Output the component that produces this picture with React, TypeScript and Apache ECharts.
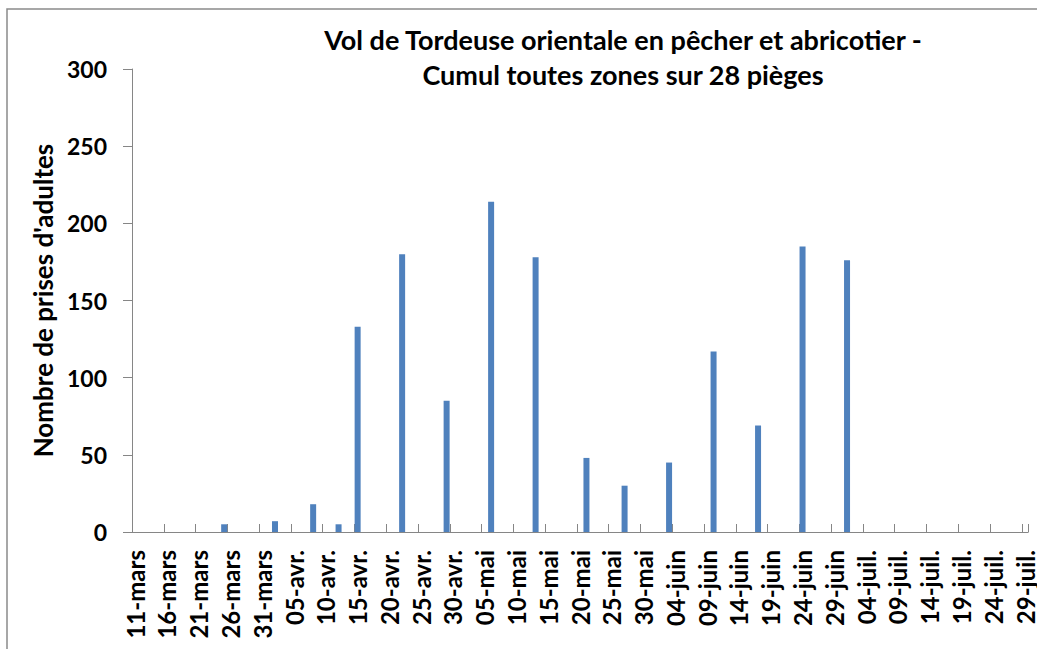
import React, { useEffect, useRef } from "react";
import * as echarts from "echarts";

const TITLE_LINES = [
  "Vol de Tordeuse orientale en pêcher et abricotier -",
  "Cumul toutes zones sur 28 pièges",
];
const Y_NAME = "Nombre de prises d'adultes";
const MONTHS = ["janv.", "févr.", "mars", "avr.", "mai", "juin", "juil.", "août", "sept.", "oct.", "nov.", "déc."];
const FIRST_DAY = "2013-03-11";
const LAST_DAY = "2013-07-29";
const Y_MIN = 0;
const Y_MAX = 300;
const Y_STEP = 50;

const trapDates = [
  "25-mars", "02-avr.", "08-avr.", "12-avr.", "15-avr.", "22-avr.", "29-avr.", "06-mai",
  "13-mai", "21-mai", "27-mai", "03-juin", "10-juin", "17-juin", "24-juin", "01-juil.",
];
const captures = [5, 7, 18, 5, 133, 180, 85, 214, 178, 48, 30, 45, 117, 69, 185, 176];

function buildDays(first: string, last: string): string[] {
  const out: string[] = [];
  const t0 = Date.parse(first + "T00:00:00Z");
  const t1 = Date.parse(last + "T00:00:00Z");
  for (let t = t0; t <= t1; t += 86400000) {
    const d = new Date(t);
    out.push(String(d.getUTCDate()).padStart(2, "0") + "-" + MONTHS[d.getUTCMonth()]);
  }
  return out;
}

const FONT = "Lato, 'Noto Sans', sans-serif";
const AXIS_GRAY = "#868686";

export default function App() {
  const ref = useRef<HTMLDivElement>(null);
  useEffect(() => {
    if (!ref.current) return;
    const chart = echarts.init(ref.current, undefined, { renderer: "svg" });
    const days = buildDays(FIRST_DAY, LAST_DAY);
    chart.setOption({
      animation: false,
      backgroundColor: "#ffffff",
      textStyle: { fontFamily: FONT },
      graphic: [
        {
          type: "rect",
          z: -10,
          shape: { x: 7, y: 9, width: 1060, height: 680 },
          style: { fill: "none", stroke: "#8a8a8a", lineWidth: 1.5 },
        },
        {
          type: "text",
          x: 623,
          y: 22,
          style: {
            text: TITLE_LINES.join("\n"),
            fontFamily: FONT,
            fontSize: 27,
            fontWeight: "bold",
            lineHeight: 35,
            fill: "#000",
            textAlign: "center",
            textVerticalAlign: "top",
          },
        },
      ],
      grid: { left: 132, right: 7, top: 69, bottom: 117, containLabel: false },
      xAxis: {
        type: "category",
        data: days,
        boundaryGap: true,
        axisLine: { show: true, lineStyle: { color: AXIS_GRAY, width: 1 } },
        axisTick: { show: true, inside: true, length: 8, interval: 4, alignWithLabel: false, lineStyle: { color: AXIS_GRAY } },
        axisLabel: {
          interval: 4,
          rotate: 90,
          margin: 18,
          fontSize: 24,
          fontWeight: "bold",
          color: "#000",
          fontFamily: FONT,
          hideOverlap: false,
        },
        splitLine: { show: false },
      },
      yAxis: {
        type: "value",
        min: Y_MIN,
        max: Y_MAX,
        interval: Y_STEP,
        name: Y_NAME,
        nameLocation: "middle",
        nameGap: 74,
        nameTextStyle: { fontSize: 26, fontWeight: "bold", color: "#000", fontFamily: FONT },
        axisLine: { show: true, lineStyle: { color: AXIS_GRAY, width: 1 } },
        axisTick: { show: true, inside: false, length: 9, lineStyle: { color: AXIS_GRAY } },
        axisLabel: { margin: 25, fontSize: 23, fontWeight: "bold", color: "#000", fontFamily: FONT },
        splitLine: { show: false },
      },
      series: [
        {
          type: "bar",
          barWidth: 6,
          itemStyle: { color: "#4f81bd" },
          data: trapDates.map((d, i) => [d, captures[i]]),
        },
      ],
    });
    return () => chart.dispose();
  }, []);
  return (
    <div
      ref={ref}
      style={{ position: "absolute", left: 0, top: 0, width: 1037, height: 649 }}
    />
  );
}
